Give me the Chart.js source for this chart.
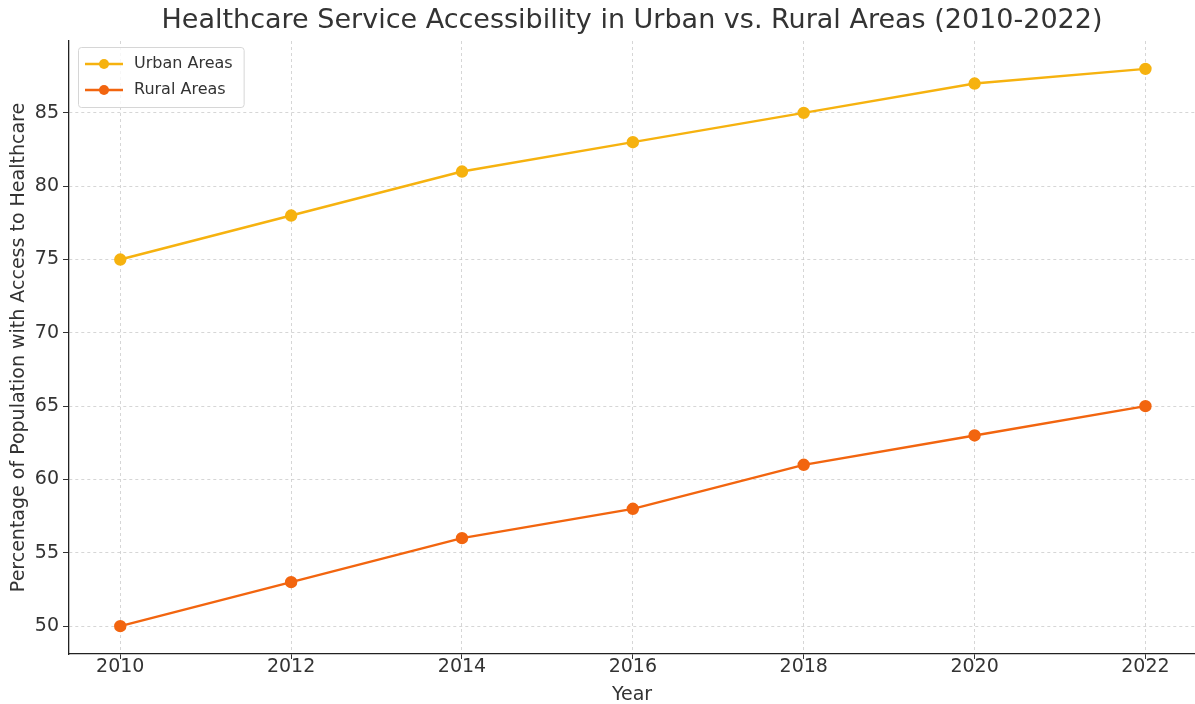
<!DOCTYPE html>
<html>
<head>
<meta charset="utf-8">
<script src="https://cdn.jsdelivr.net/npm/chart.js@4/dist/chart.umd.min.js"></script>
<style>
  html, body { margin: 0; padding: 0; background: #fff; overflow: hidden; }
  #wrap { width: 1195px; height: 704px; position: relative; }
</style>
</head>
<body>
<div id="wrap"><canvas id="grafico"></canvas></div>
<script>
// datos del grafico
const anios = [2010, 2012, 2014, 2016, 2018, 2020, 2022]
const urbano = [75, 78, 81, 83, 85, 87, 88]
const rural = [50, 53, 56, 58, 61, 63, 65]
const ticksY = [50, 55, 60, 65, 70, 75, 80, 85]
const ticksX = [2010, 2012, 2014, 2016, 2018, 2020, 2022]

const titulo = 'Healthcare Service Accessibility in Urban vs. Rural Areas (2010-2022)'
const colorUrbano = '#f6b20f'
const colorRural = '#f2650f'
const fuente = "'DejaVu Sans', sans-serif"
const colorTexto = '#333333'
const colorGrilla = 'rgba(200,200,200,0.75)'

function puntos(valores) {
    return anios.map((a, i) => ({ x: a, y: valores[i] }))
}

// titulo centrado sobre el area del grafico
const pluginTitulo = {
    id: 'tituloCentrado',
    afterDraw(chart) {
        const { ctx, chartArea } = chart
        ctx.save()
        ctx.font = '27px ' + fuente
        ctx.fillStyle = colorTexto
        ctx.textAlign = 'center'
        ctx.textBaseline = 'middle'
        ctx.fillText(titulo, (chartArea.left + chartArea.right) / 2, 21)
        ctx.restore()
    }
}

// leyenda estilo linea + punto
const pluginLeyenda = {
    id: 'leyendaLinea',
    afterDraw(chart) {
        const { ctx, chartArea } = chart
        const x0 = chartArea.left + 9
        const y0 = chartArea.top + 6
        const alto = 26
        ctx.save()
        ctx.font = '16px ' + fuente
        let ancho = 0
        chart.data.datasets.forEach(d => { ancho = Math.max(ancho, ctx.measureText(d.label).width) })
        const w = 56 + ancho + 11
        const h = chart.data.datasets.length * alto + 8
        ctx.fillStyle = 'rgba(255,255,255,0.8)'
        ctx.strokeStyle = '#d6d6d6'
        ctx.lineWidth = 1
        ctx.beginPath()
        ctx.roundRect(x0 + 0.5, y0 + 0.5, w, h, 3)
        ctx.fill()
        ctx.stroke()
        chart.data.datasets.forEach((d, i) => {
            const cy = y0 + 17 + i * alto
            ctx.strokeStyle = d.borderColor
            ctx.lineWidth = 2.4
            ctx.beginPath()
            ctx.moveTo(x0 + 7, cy)
            ctx.lineTo(x0 + 45, cy)
            ctx.stroke()
            ctx.fillStyle = d.borderColor
            ctx.beginPath()
            ctx.arc(x0 + 26, cy, 5, 0, Math.PI * 2)
            ctx.fill()
            ctx.fillStyle = colorTexto
            ctx.textAlign = 'left'
            ctx.textBaseline = 'middle'
            ctx.fillText(d.label, x0 + 56, cy)
        })
        ctx.restore()
    }
}

const ctx = document.getElementById('grafico').getContext('2d')

const data = {
    datasets: [{
        label: 'Urban Areas',
        data: puntos(urbano),
        borderColor: colorUrbano,
        backgroundColor: colorUrbano,
        borderWidth: 2.4,
        pointRadius: 5,
        pointHoverRadius: 5,
        tension: 0
    }, {
        label: 'Rural Areas',
        data: puntos(rural),
        borderColor: colorRural,
        backgroundColor: colorRural,
        borderWidth: 2.4,
        pointRadius: 5,
        pointHoverRadius: 5,
        tension: 0
    }]
}

const options = {
    responsive: true,
    maintainAspectRatio: false,
    animation: false,
    layout: { autoPadding: false, padding: { top: 41, right: 0, left: 0, bottom: 0 } },
    plugins: {
        legend: { display: false },
        tooltip: { enabled: false }
    },
    scales: {
        x: {
            type: 'linear',
            min: 2009.4,
            max: 2022.58,
            afterFit(scale) {
                scale.height = 50
                scale.paddingLeft = 0
                scale.paddingRight = 0
            },
            afterBuildTicks(scale) { scale.ticks = ticksX.map(v => ({ value: v })) },
            grid: { color: colorGrilla, tickColor: '#333', tickLength: 5, tickBorderDash: [] },
            border: { display: true, color: '#222', width: 1.3, dash: [3, 3] },
            ticks: {
                color: colorTexto, padding: -3, maxRotation: 0,
                font: { family: fuente, size: 19 },
                callback: v => String(v)
            },
            title: {
                display: true, text: 'Year', color: colorTexto,
                font: { family: fuente, size: 19 }, padding: { top: 0, bottom: -2 }
            }
        },
        y: {
            min: 48.1,
            max: 89.9,
            afterFit(scale) {
                scale.width = 69
                scale.paddingTop = 0
                scale.paddingBottom = 0
            },
            afterBuildTicks(scale) { scale.ticks = ticksY.map(v => ({ value: v })) },
            grid: { color: colorGrilla, tickColor: '#333', tickLength: 6, tickBorderDash: [] },
            border: { display: true, color: '#222', width: 1.3, dash: [3, 3] },
            ticks: {
                color: colorTexto, padding: 4,
                font: { family: fuente, size: 19 }
            },
            title: {
                display: true, text: 'Percentage of Population with Access to Healthcare',
                color: colorTexto, font: { family: fuente, size: 19 },
                padding: { top: 8, bottom: 0 }
            }
        }
    }
}

new Chart(ctx, { type: 'line', data, options, plugins: [pluginTitulo, pluginLeyenda] })
</script>
</body>
</html>
